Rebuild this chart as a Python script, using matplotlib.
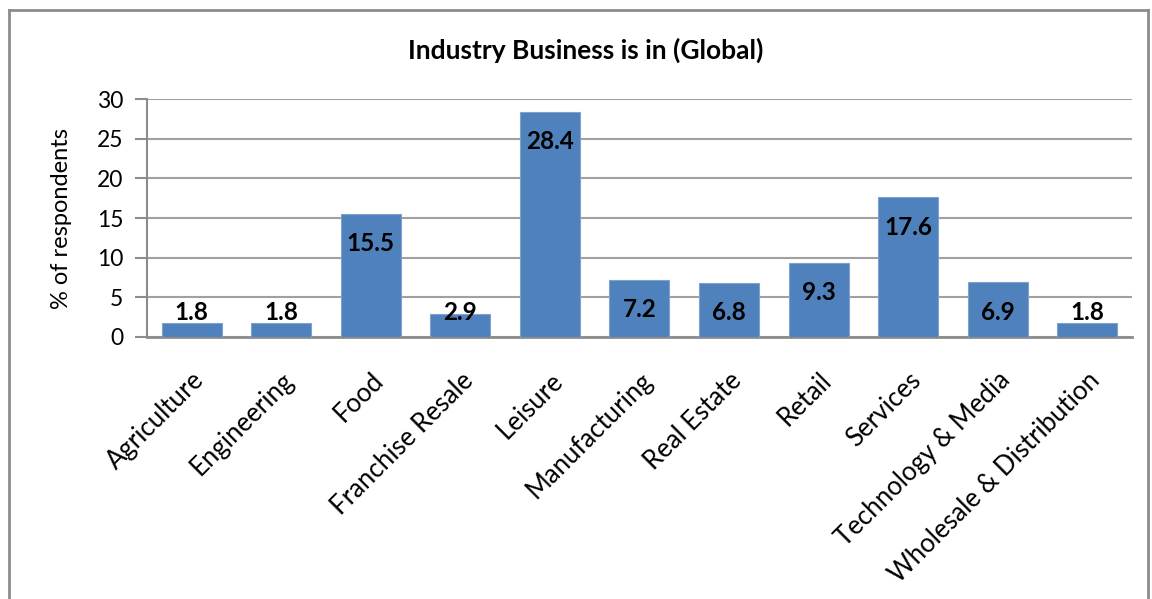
import matplotlib
matplotlib.use("Agg")
import matplotlib.pyplot as plt
from matplotlib.lines import Line2D

categories = ["Agriculture", "Engineering", "Food", "Franchise Resale", "Leisure",
              "Manufacturing", "Real Estate", "Retail", "Services",
              "Technology & Media", "Wholesale & Distribution"]
values = [1.8, 1.8, 15.5, 2.9, 28.4, 7.2, 6.8, 9.3, 17.6, 6.9, 1.8]
yticks = [0, 5, 10, 15, 20, 25, 30]

plt.rcParams['font.family'] = ['Lato', 'DejaVu Sans']

fig = plt.figure(figsize=(11.52, 5.99), dpi=100)
ax = fig.add_axes([0.1276, 0.4374, 0.9826 - 0.1276, 0.8347 - 0.4374])

bar_color = "#4F81BD"
x = list(range(len(categories)))
ax.bar(x, values, width=0.67, color=bar_color, edgecolor="#7FA3D0", linewidth=0.8, zorder=3)

ax.set_xlim(-0.5, len(categories) - 0.5)
ax.set_ylim(0, 30)
ax.set_yticks(yticks)
ax.set_yticklabels([str(t) for t in yticks], fontsize=16.5)
ax.set_xticks(x)
ax.set_xticklabels(categories, rotation=45, ha='right', rotation_mode='anchor', fontsize=18.5)
ax.tick_params(axis='x', length=0, pad=22)
ax.tick_params(axis='y', length=9, width=1.5, color="#8C8C8C", direction='out', pad=8)

ax.grid(axis='y', color="#A0A0A0", linewidth=1.5, zorder=0)
ax.set_axisbelow(True)
for s in ['top', 'right']:
    ax.spines[s].set_visible(False)
ax.spines['left'].set_color("#8C8C8C")
ax.spines['left'].set_linewidth(1.5)
ax.spines['bottom'].set_color("#8C8C8C")
ax.spines['bottom'].set_linewidth(2)

# value labels: inside end, clamped above for short bars
for xi, v in zip(x, values):
    ypos = max(v - 3.75, 3.15)
    ax.text(xi, ypos, f"{v}", ha='center', va='center', fontsize=17.5,
            fontweight='bold', color='black', zorder=4)

ax.set_ylabel("% of respondents", fontsize=17, labelpad=18)

fig.text(0.508, 1 - 50 / 599, "Industry Business is in (Global)", ha='center', va='center',
         fontsize=19, fontweight='bold')

# chart frame
fc = "#8C8C8C"
fig.add_artist(Line2D([9 / 1152, 9 / 1152], [0, 1 - 10 / 599], transform=fig.transFigure, color=fc, lw=2))
fig.add_artist(Line2D([9 / 1152, 1148 / 1152], [1 - 10 / 599, 1 - 10 / 599], transform=fig.transFigure, color=fc, lw=2))
fig.add_artist(Line2D([1148 / 1152, 1148 / 1152], [0, 1 - 10 / 599], transform=fig.transFigure, color=fc, lw=2))

fig.savefig("out.png", dpi=100)
